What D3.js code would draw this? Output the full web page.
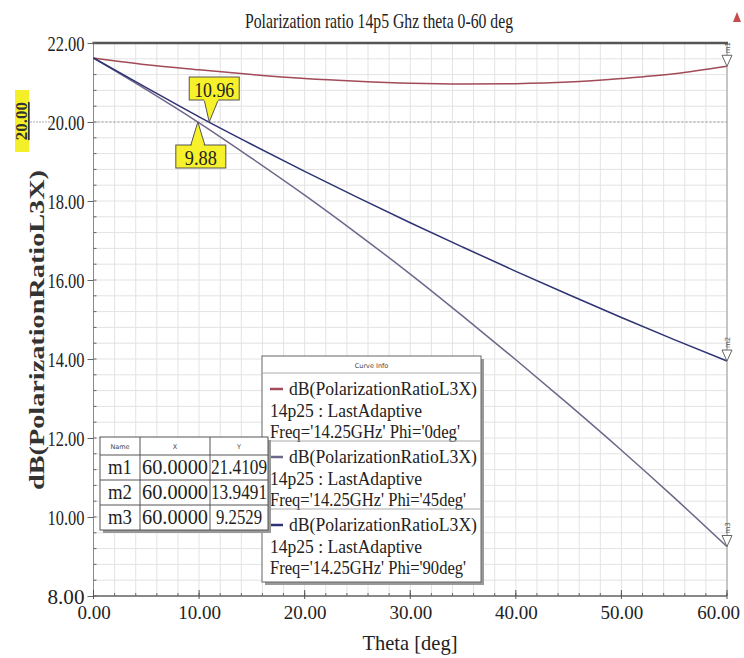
<!DOCTYPE html>
<html><head><meta charset="utf-8">
<script src="https://cdn.jsdelivr.net/npm/d3@7"></script>
<style>body{margin:0;background:#fff}svg{display:block}</style>
</head><body>
<svg id="c" width="744" height="658"></svg>
<script>
// ---- data ----
const theta = [0,5,10,15,20,25,30,35,40,45,50,55,60];
const phi0  = [21.62,21.45,21.32,21.20,21.10,21.03,20.98,20.96,20.97,21.01,21.10,21.22,21.41];
const phi45 = [21.62,20.82,19.98,19.08,18.15,17.17,16.15,15.08,13.98,12.85,11.69,10.49,9.25];
const phi90 = [21.62,20.87,20.13,19.43,18.75,18.09,17.45,16.83,16.22,15.63,15.05,14.49,13.95];
const seriesNames = ["Phi='0deg'","Phi='45deg'","Phi='90deg'"];
const seriesColors = ["#a24a58","#6f6689","#2f3373"];
const xTicks = [0,10,20,30,40,50,60];
const yTicks = [8,10,12,14,16,18,20,22];
const markerNames = ["m1","m2","m3"];
const markerX = [60,60,60];
const markerY = [21.4109,13.9491,9.2529];
const crossX = [10.96, 9.88];
const refY = 20;

const svg = d3.select("#c");
const x = d3.scaleLinear().domain([0,60]).range([93.5,727]);
const y = d3.scaleLinear().domain([8,22]).range([596,43]);
const serif = "Liberation Serif";

// grid
const g = svg.append("g");
g.selectAll(".vg").data(d3.range(0,61,2)).join("line")
  .attr("x1",d=>x(d)).attr("x2",d=>x(d)).attr("y1",y(22)).attr("y2",y(8))
  .attr("stroke","#e3e3e3").attr("stroke-width",1);
g.selectAll(".hg").data(d3.range(0,36).map(i=>8+i*0.4)).join("line")
  .attr("x1",x(0)).attr("x2",x(60)).attr("y1",d=>y(d)).attr("y2",d=>y(d))
  .attr("stroke","#e3e3e3").attr("stroke-width",1);

// borders
svg.append("line").attr("x1",x(60)).attr("x2",x(60)).attr("y1",y(22)).attr("y2",y(8)).attr("stroke","#9a9a9a");
svg.append("line").attr("x1",x(0)).attr("x2",x(0)).attr("y1",y(22)).attr("y2",y(8)).attr("stroke","#8a8a8a");
svg.append("line").attr("x1",x(0)-1).attr("x2",x(60)+1).attr("y1",y(22)).attr("y2",y(22)).attr("stroke","#555").attr("stroke-width",2.5);
svg.append("line").attr("x1",x(0)).attr("x2",x(60)).attr("y1",y(8)).attr("y2",y(8)).attr("stroke","#666").attr("stroke-width",1.5);

// axes
const ya = svg.append("g").attr("transform",`translate(${x(0)},0)`)
  .call(d3.axisLeft(y).tickValues(yTicks).tickFormat(d3.format(".2f")).tickSize(6).tickPadding(3));
ya.select(".domain").remove();
ya.selectAll("line").attr("stroke","#666");
ya.selectAll("text").attr("font-family",serif).attr("font-size",22).attr("fill","#222")
  .attr("textLength",37).attr("lengthAdjust","spacingAndGlyphs");
const xa = svg.append("g").attr("transform",`translate(0,${y(8)})`)
  .call(d3.axisBottom(x).tickValues(xTicks).tickFormat(d3.format(".2f")).tickSize(0).tickPadding(6));
xa.select(".domain").remove();
xa.selectAll("text").attr("font-family",serif).attr("font-size",19).attr("fill","#222").attr("dy","0.9em")
  .attr("dx",d=>d===60?-9:0);
// minor ticks
svg.selectAll(".ym").data(d3.range(0,36).map(i=>8+i*0.4)).join("line")
  .attr("x1",x(0)).attr("x2",x(0)+3).attr("y1",d=>y(d)).attr("y2",d=>y(d)).attr("stroke","#666");
svg.selectAll(".xm").data(d3.range(0,61,2)).join("line")
  .attr("x1",d=>x(d)).attr("x2",d=>x(d)).attr("y1",y(8)).attr("y2",y(8)-3).attr("stroke","#666");
svg.selectAll(".xM").data(xTicks).join("line")
  .attr("x1",d=>x(d)).attr("x2",d=>x(d)).attr("y1",y(8)+3).attr("y2",y(8)-6).attr("stroke","#555");

// reference line at 20
svg.append("line").attr("x1",x(0)).attr("x2",x(60)).attr("y1",y(refY)).attr("y2",y(refY))
  .attr("stroke","#9a9a9a").attr("stroke-width",1.2).attr("stroke-dasharray","2,2");
svg.append("line").attr("x1",30).attr("x2",52).attr("y1",y(refY)).attr("y2",y(refY))
  .attr("stroke","#aaa").attr("stroke-width",1).attr("stroke-dasharray","2,1");

// curves
const line = d3.line().x((d,i)=>x(theta[i])).y(d=>y(d)).curve(d3.curveMonotoneX);
[phi0,phi45,phi90].forEach((s,i)=>{
  svg.append("path").attr("d",line(s)).attr("fill","none")
    .attr("stroke",seriesColors[i]).attr("stroke-width",1.5);
});

// end markers
markerNames.forEach((m,i)=>{
  const px=x(markerX[i]), py=y(markerY[i]);
  svg.append("path").attr("d",`M${px-5},${py-11}L${px+5},${py-11}L${px},${py}Z`)
    .attr("fill","#fff").attr("stroke","#666").attr("stroke-width",1);
  svg.append("text").attr("transform",`translate(${px+3},${py-13}) rotate(-90)`)
    .attr("font-family","DejaVu Sans").attr("font-size",7).attr("fill","#555").text(m);
});

// crossing callouts
function callout(tx, ty, up, label){
  const bw=50, bh=23;
  const bx = tx-22+(up?0:2), by = up ? ty+23 : ty-45;
  const baseY = up ? by : by+bh;
  svg.append("path").attr("d",`M${tx-7+(up?0:2)},${baseY}L${tx},${ty}L${tx+7+(up?0:2)},${baseY}Z`)
    .attr("fill","#f6f12a").attr("stroke","#555").attr("stroke-width",1);
  svg.append("rect").attr("x",bx).attr("y",by).attr("width",bw).attr("height",bh)
    .attr("fill","#f6f12a").attr("stroke","#555").attr("stroke-width",1);
  svg.append("rect").attr("x",up?tx-6:tx-5).attr("y",baseY-1).attr("width",up?12:14).attr("height",2).attr("fill","#f6f12a");
  svg.append("text").attr("x",bx+bw/2).attr("y",by+bh/2+8).attr("text-anchor","middle")
    .attr("font-family",serif).attr("font-size",22).attr("fill","#222")
    .attr("textLength",label.length>4?40:32).attr("lengthAdjust","spacingAndGlyphs").text(label);
}
callout(x(crossX[0]), y(refY), false, crossX[0].toFixed(2));
callout(x(crossX[1]), y(refY), true, crossX[1].toFixed(2));

// left yellow label
svg.append("rect").attr("x",15).attr("y",90).attr("width",14).attr("height",62).attr("fill","#f3f02a");
svg.append("text").attr("transform",`translate(27,121) rotate(-90)`).attr("text-anchor","middle")
  .attr("font-family",serif).attr("font-weight","bold").attr("font-size",17).attr("fill","#333")
  .attr("text-decoration","underline").text(refY.toFixed(2));

// title
svg.append("text").attr("x",379).attr("y",28).attr("text-anchor","middle")
  .attr("font-family",serif).attr("font-size",21).attr("fill","#222")
  .attr("textLength",268).attr("lengthAdjust","spacingAndGlyphs")
  .text("Polarization ratio 14p5 Ghz theta 0-60 deg");
svg.append("path").attr("d","M733,22L737,12L741,22Z").attr("fill","#c84a4a");

// axis titles
svg.append("text").attr("x",410).attr("y",650).attr("text-anchor","middle")
  .attr("font-family",serif).attr("font-size",21).attr("fill","#222")
  .attr("textLength",95).attr("lengthAdjust","spacingAndGlyphs").text("Theta [deg]");
svg.append("text").attr("transform",`translate(44,330) rotate(-90)`).attr("text-anchor","middle")
  .attr("font-family",serif).attr("font-weight","bold").attr("font-size",20).attr("fill","#333")
  .attr("textLength",320).attr("lengthAdjust","spacingAndGlyphs")
  .text("dB(PolarizationRatioL3X)");

// legend box
const lx=262, ly=356, lw=219, lh=226;
svg.append("rect").attr("x",lx+3).attr("y",ly+3).attr("width",lw).attr("height",lh).attr("fill","#999");
svg.append("rect").attr("x",lx).attr("y",ly).attr("width",lw).attr("height",lh).attr("fill","#fff").attr("stroke","#666");
svg.append("text").attr("x",lx+lw/2).attr("y",ly+12).attr("text-anchor","middle")
  .attr("font-family","DejaVu Sans").attr("font-size",6.5).attr("fill","#444").text("Curve Info");
svg.append("line").attr("x1",lx).attr("x2",lx+lw).attr("y1",ly+17).attr("y2",ly+17).attr("stroke","#aaa");
seriesNames.forEach((nm,i)=>{
  const by = ly+17+i*68;
  if(i>0) svg.append("line").attr("x1",lx).attr("x2",lx+lw).attr("y1",by).attr("y2",by).attr("stroke","#aaa");
  svg.append("line").attr("x1",lx+8).attr("x2",lx+21).attr("y1",by+16).attr("y2",by+16)
    .attr("stroke",seriesColors[i]).attr("stroke-width",2.5);
  const t = [["dB(PolarizationRatioL3X)",lx+27,by+22,188],["14p25 : LastAdaptive",lx+8,by+44,152],["Freq='14.25GHz' "+nm,lx+8,by+65,nm.length>10?196:190]];
  t.forEach(([s,tx,ty,tl])=>{
    svg.append("text").attr("x",tx).attr("y",ty).attr("font-family",serif)
      .attr("font-size",19).attr("fill","#222")
      .attr("textLength",tl).attr("lengthAdjust","spacingAndGlyphs").text(s);
  });
});

// marker table
const tx0=100, ty0=437, colW=[40,70,58], rowH=[18,25,25,25];
const tW=d3.sum(colW), tH=d3.sum(rowH);
svg.append("rect").attr("x",tx0+3).attr("y",ty0+3).attr("width",tW).attr("height",tH).attr("fill","#999");
svg.append("rect").attr("x",tx0).attr("y",ty0).attr("width",tW).attr("height",tH).attr("fill","#fff").attr("stroke","#555");
let cx=tx0;
colW.slice(0,-1).forEach(w=>{cx+=w; svg.append("line").attr("x1",cx).attr("x2",cx).attr("y1",ty0).attr("y2",ty0+tH).attr("stroke","#555");});
let ry=ty0;
rowH.slice(0,-1).forEach(h=>{ry+=h; svg.append("line").attr("x1",tx0).attr("x2",tx0+tW).attr("y1",ry).attr("y2",ry).attr("stroke","#555");});
const colX = [tx0, tx0+colW[0], tx0+colW[0]+colW[1]];
["Name","X","Y"].forEach((h,j)=>{
  svg.append("text").attr("x",colX[j]+colW[j]/2).attr("y",ty0+12).attr("text-anchor","middle")
    .attr("font-family","DejaVu Sans").attr("font-size",6.5).attr("fill","#444").text(h);
});
markerNames.forEach((m,i)=>{
  const yy = ty0+rowH[0]+i*25+19;
  const vals=[m, markerX[i].toFixed(4), markerY[i].toFixed(4)];
  vals.forEach((v,j)=>{
    svg.append("text").attr("x",colX[j]+colW[j]/2).attr("y",yy).attr("text-anchor","middle")
      .attr("font-family",serif).attr("font-size",21).attr("fill","#222")
      .attr("textLength", j===0?24:(j===1?66:j===2&&i===2?46:56)).attr("lengthAdjust","spacingAndGlyphs").text(v);
  });
});
</script>
</body></html>
